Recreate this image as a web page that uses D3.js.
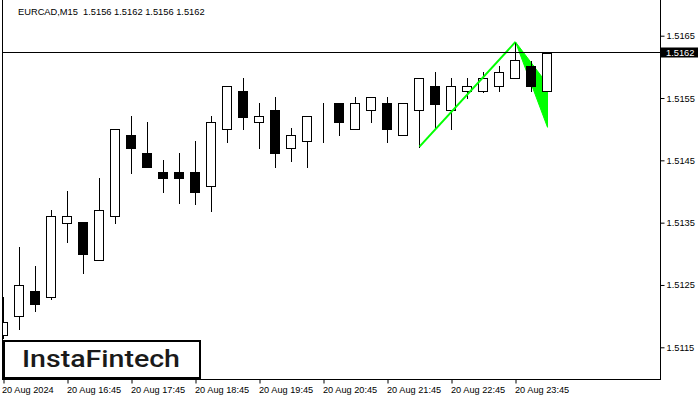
<!DOCTYPE html>
<html><head><meta charset="utf-8">
<script src="https://cdn.jsdelivr.net/npm/d3@7"></script>
<style>
html,body{margin:0;padding:0;background:#fff;}
svg{display:block;}
text{font-family:"Liberation Sans",Arial,sans-serif;}
</style></head>
<body>
<svg id="chart" width="700" height="400"></svg>
<script>
// ---- data (EURCAD M15) ----
const titleText = "EURCAD,M15  1.5156 1.5162 1.5156 1.5162";
const open  = [1.51169,1.51200,1.51240,1.51230,1.51350,1.51351,1.51290,1.51360,1.51490,1.51461,1.51431,1.51431,1.51431,1.51409,1.51501,1.51561,1.51511,1.51531,1.51470,1.51481,1.51530,1.51542,1.51501,1.51530,1.51542,1.51490,1.51530,1.51570,1.51530,1.51561,1.51561,1.51570,1.51582,1.51601,1.51561];
const high  = [1.51231,1.51311,1.51280,1.51370,1.51401,1.51351,1.51422,1.51501,1.51521,1.51512,1.51451,1.51461,1.51481,1.51521,1.51570,1.51582,1.51542,1.51552,1.51502,1.51521,1.51542,1.51542,1.51552,1.51552,1.51552,1.51542,1.51582,1.51592,1.51582,1.51582,1.51592,1.51601,1.51640,1.51610,1.51622];
const low   = [1.51165,1.51180,1.51209,1.51228,1.51319,1.51270,1.51290,1.51350,1.51430,1.51440,1.51400,1.51381,1.51380,1.51369,1.51480,1.51500,1.51470,1.51440,1.51449,1.51440,1.51480,1.51490,1.51501,1.51511,1.51480,1.51490,1.51472,1.51501,1.51501,1.51550,1.51559,1.51561,1.51582,1.51561,1.51561];
const close = [1.51190,1.51250,1.51220,1.51361,1.51361,1.51300,1.51370,1.51501,1.51470,1.51440,1.51421,1.51421,1.51400,1.51511,1.51570,1.51520,1.51521,1.51461,1.51490,1.51521,1.51530,1.51511,1.51542,1.51552,1.51501,1.51542,1.51582,1.51541,1.51570,1.51570,1.51582,1.51591,1.51611,1.51570,1.51622];
const currentPrice = 1.51623;
const currentLabel = "1.5162";
const yTicks = [1.5115,1.5125,1.5135,1.5145,1.5155,1.5165];
const xTickIndex = [0,4,8,12,16,20,24,28,32];
const xTickLabels = ["20 Aug 2024","20 Aug 16:45","20 Aug 17:45","20 Aug 18:45","20 Aug 19:45","20 Aug 20:45","20 Aug 21:45","20 Aug 22:45","20 Aug 23:45"];
// pattern: flagpole (index, price) and flag triangle
const poleIdx = [26,32];
const polePrice = [1.51472,1.51640];
const flagIdx = [32,34,34];
const flagPrice = [1.51640,1.51572,1.51503];
const logoText = "InstaFintech";

// ---- layout ----
const svg = d3.select("#chart");
const plotL = 2, plotR = 660, plotB = 379, plotT = 0;
const x = d3.scaleLinear().domain([0,34]).range([3.5,547.5]);
const y = d3.scaleLinear().domain([1.5115,1.5165]).range([347.3,35.7]);
const snap = v => Math.round(v) + 0.5;

svg.append("defs").append("clipPath").attr("id","plotclip")
  .append("rect").attr("x",plotL+1).attr("y",plotT).attr("width",plotR-plotL-1).attr("height",plotB-plotT);

// title
svg.append("text").attr("x",18).attr("y",15).attr("font-size",9.3)
  .attr("fill","#000").style("white-space","pre").text(titleText);

const plot = svg.append("g").attr("clip-path","url(#plotclip)");

// flag triangle (background)
const tri = flagIdx.map((d,i)=>[x(d), y(flagPrice[i])]);
plot.append("path").attr("d", d3.line()(tri) + "Z").attr("fill","#00ff00").attr("stroke","#00ff00").attr("stroke-width",1);

// candles
const idx = d3.range(open.length);
const cg = plot.append("g");
cg.selectAll("line.wick").data(idx).join("line").attr("class","wick")
  .attr("x1",i=>x(i)).attr("x2",i=>x(i))
  .attr("y1",i=>Math.round(y(high[i]))).attr("y2",i=>Math.round(y(low[i]))+1)
  .attr("stroke","#000").attr("stroke-width",1);
cg.selectAll("rect.body").data(idx).join("rect").attr("class","body")
  .attr("x",i=>x(i)-5).attr("width",9)
  .attr("y",i=>snap(y(Math.max(open[i],close[i]))))
  .attr("height",i=>Math.max(0, Math.round(y(Math.min(open[i],close[i]))) - Math.round(y(Math.max(open[i],close[i])))))
  .attr("fill",i=>close[i]>=open[i]?"#fff":"#000")
  .attr("stroke","#000").attr("stroke-width",1);

// flagpole line
const pole = poleIdx.map((d,i)=>[x(d), y(polePrice[i])]);
plot.append("path").attr("d", d3.line()(pole)).attr("fill","none").attr("stroke","#00ff00").attr("stroke-width",2);

// current price line
plot.append("line").attr("x1",plotL).attr("x2",plotR).attr("y1",snap(y(currentPrice))-1).attr("y2",snap(y(currentPrice))-1)
  .attr("stroke","#000").attr("stroke-width",1);

// frame
svg.append("line").attr("x1",2.5).attr("x2",2.5).attr("y1",0).attr("y2",plotB).attr("stroke","#000");
svg.append("line").attr("x1",plotR+0.5).attr("x2",plotR+0.5).attr("y1",0).attr("y2",plotB+1).attr("stroke","#000");
svg.append("line").attr("x1",2).attr("x2",plotR+1).attr("y1",plotB+0.5).attr("y2",plotB+0.5).attr("stroke","#000");

// y axis
const yAxis = svg.append("g").attr("transform",`translate(${plotR+0.5},0)`)
  .call(d3.axisRight(y).tickValues(yTicks).tickSize(4).tickPadding(2).tickFormat(d3.format(".4f")));
yAxis.select(".domain").remove();
yAxis.selectAll("text").attr("font-size",9.3).attr("font-family","Liberation Sans, Arial, sans-serif").attr("fill","#000");

// current price label
const cpY = snap(y(currentPrice))-1;
svg.append("rect").attr("x",plotR+1).attr("y",cpY-5).attr("width",37).attr("height",10).attr("fill","#000");
svg.append("text").attr("x",plotR+6).attr("y",cpY).attr("dy","0.35em").attr("font-size",9.3).attr("fill","#fff").text(currentLabel);

// x axis
const xAxis = svg.append("g").attr("transform",`translate(0,${plotB+0.5})`)
  .call(d3.axisBottom(x).tickValues(xTickIndex).tickSize(4).tickPadding(3).tickFormat((d,i)=>xTickLabels[i]));
xAxis.select(".domain").remove();
xAxis.selectAll("text").attr("text-anchor","start").attr("dx",-1).attr("font-size",9.2)
  .attr("font-family","Liberation Sans, Arial, sans-serif").attr("fill","#000");
xAxis.selectAll(".tick").filter((d,i)=>i===0).select("text").attr("dx",-2);

// logo
svg.append("rect").attr("x",4).attr("y",341).attr("width",196).attr("height",37)
  .attr("fill","#fff").attr("stroke","#000").attr("stroke-width",2);
svg.append("text").attr("x",22).attr("y",367).attr("font-size",24.5).attr("font-weight",500)
  .style("font-family","Roboto, 'Open Sans', sans-serif").attr("fill","#1a1a1a")
  .attr("textLength",158).attr("lengthAdjust","spacingAndGlyphs").text(logoText);
</script>
</body></html>
